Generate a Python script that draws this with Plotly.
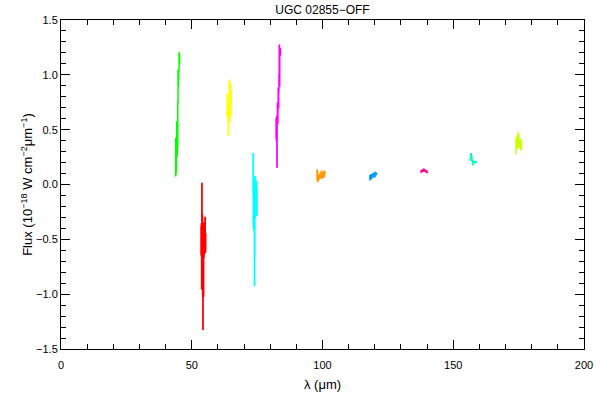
import plotly.graph_objects as go

# ---- data (wavelength in micron, flux in 1e-18 W cm^-2 um^-1) ----
green_wl = [43.7, 43.8, 43.9, 44.0, 44.05, 44.1, 44.15, 44.2, 44.3, 44.4, 44.45, 44.5, 44.55, 44.6, 44.7, 44.8, 44.9, 45.0, 45.1, 45.2, 45.3, 45.4]
green_fx = [0.09, 0.08, 0.42, 0.10, 0.40, 0.14, 0.36, 0.28, 0.57, 0.26, 0.52, 0.30, 0.55, 0.35, 0.75, 1.04, 0.90, 1.02, 1.04, 1.20, 1.10, 1.18]

red_wl = [53.5, 53.6, 53.7, 53.8, 53.9, 54.0, 54.1, 54.2, 54.3, 54.4, 54.5, 54.6, 54.7, 54.8, 54.9, 55.0, 55.1, 55.2, 55.3, 55.4]
red_fx = [-0.38, -0.64, -0.36, -0.95, 0.01, -0.62, -0.28, -1.00, -1.32, -0.40, -1.02, -0.35, -0.66, -0.40, -0.62, -0.38, -0.30, -0.62, -0.45, -0.60]

yellow_wl = [63.4, 63.5, 63.6, 63.7, 63.8, 63.9, 64.0, 64.1, 64.2, 64.3, 64.4, 64.5, 64.6, 64.7, 64.8, 64.9, 65.0, 65.1]
yellow_fx = [0.62, 0.66, 0.82, 0.63, 0.64, 0.60, 0.45, 0.66, 0.70, 0.62, 0.95, 0.58, 0.90, 0.62, 0.92, 0.65, 0.85, 0.72]

cyan_wl = [73.4, 73.5, 73.6, 73.7, 73.8, 73.9, 74.0, 74.1, 74.2, 74.3, 74.4, 74.5, 74.6, 74.7, 74.8, 74.9, 75.0]
cyan_fx = [-0.10, 0.28, -0.40, 0.06, -0.42, 0.04, -0.92, -0.66, 0.07, -0.30, 0.00, -0.20, 0.02, -0.25, 0.03, -0.28, -0.05]

magenta_wl = [82.2, 82.3, 82.4, 82.5, 82.6, 82.7, 82.8, 82.9, 83.0, 83.1, 83.2, 83.3, 83.4, 83.5, 83.6, 83.7, 83.8, 83.9, 84.0]
magenta_fx = [0.42, 0.60, 0.40, 0.62, 0.16, 0.58, 0.74, 0.56, 0.72, 0.88, 0.70, 0.86, 1.00, 1.27, 0.90, 1.20, 1.24, 1.18, 1.22]

orange_wl = [97.8, 98.0, 98.2, 98.4, 98.6, 98.8, 99.0, 99.2, 99.4, 99.6, 99.8, 100.0, 100.2, 100.4, 100.6, 100.8, 101.0]
orange_fx = [0.04, 0.13, 0.03, 0.08, 0.05, 0.09, 0.06, 0.10, 0.07, 0.12, 0.06, 0.09, 0.08, 0.11, 0.07, 0.12, 0.09]

blue_wl = [118.0, 118.2, 118.4, 118.6, 118.8, 119.0, 119.2, 119.4, 119.6, 119.8, 120.0, 120.2, 120.4, 120.6, 120.8]
blue_fx = [0.04, 0.08, 0.05, 0.09, 0.06, 0.08, 0.07, 0.10, 0.08, 0.09, 0.07, 0.11, 0.09, 0.10, 0.09]

pink_wl = [137.5, 137.8, 138.1, 138.4, 138.7, 139.0, 139.3, 139.6, 139.9, 140.2]
pink_fx = [0.11, 0.12, 0.13, 0.12, 0.14, 0.12, 0.13, 0.12, 0.11, 0.12]

teal_wl = [156.4, 156.6, 156.8, 157.0, 157.2, 157.4, 157.6, 157.8, 158.0, 158.3, 158.6, 158.9]
teal_fx = [0.22, 0.24, 0.28, 0.26, 0.22, 0.21, 0.18, 0.21, 0.20, 0.21, 0.20, 0.21]

lime_wl = [173.9, 174.1, 174.3, 174.5, 174.7, 174.9, 175.1, 175.3, 175.5, 175.7, 175.9, 176.1, 176.3]
lime_fx = [0.28, 0.42, 0.33, 0.44, 0.35, 0.47, 0.34, 0.42, 0.36, 0.41, 0.32, 0.38, 0.36]

segments = [
    (green_wl, green_fx, "#00FF00"),
    (red_wl, red_fx, "#FF0000"),
    (yellow_wl, yellow_fx, "#FFFF00"),
    (cyan_wl, cyan_fx, "#00FFFF"),
    (magenta_wl, magenta_fx, "#FF00FF"),
    (orange_wl, orange_fx, "#FF9900"),
    (blue_wl, blue_fx, "#0099FF"),
    (pink_wl, pink_fx, "#FF0099"),
    (teal_wl, teal_fx, "#00FFBB"),
    (lime_wl, lime_fx, "#CCFF00"),
]

fig = go.Figure()
for wl, fx, col in segments:
    fig.add_trace(go.Scatter(x=wl, y=fx, mode="lines", line=dict(color=col, width=1.5, shape="hvh"),
                             showlegend=False, hoverinfo="skip"))

font = dict(family="Liberation Sans, DejaVu Sans, sans-serif", size=11, color="black")
axis_common = dict(showgrid=False, zeroline=False, showline=True, linecolor="black", linewidth=1,
                   mirror="ticks", ticks="inside", tickcolor="black", tickwidth=1, ticklen=9,
                   automargin=False)

fig.update_layout(
    width=600, height=400,
    margin=dict(l=61, r=16, t=20, b=51),
    paper_bgcolor="white", plot_bgcolor="white",
    font=font,
    title=dict(text="UGC 02855\u2212OFF", xref="paper", x=0.5, xanchor="center",
               y=0.975, yanchor="middle", font=dict(size=12)),
    xaxis=dict(range=[0, 200], dtick=50, tick0=0, ticklabelstandoff=6,
               title=dict(text="\u03bb (\u03bcm)", standoff=9),
               minor=dict(ticks="inside", dtick=10, ticklen=5, tickcolor="black"),
               **axis_common),
    yaxis=dict(range=[-1.5, 1.5], dtick=0.5, tick0=0, tickformat=".1f",
               title=dict(text="Flux (10<sup>\u221218</sup> W cm<sup>\u22122</sup>\u03bcm<sup>\u22121</sup>)", standoff=0),
               minor=dict(ticks="inside", dtick=0.1, ticklen=5, tickcolor="black"),
               **axis_common),
)

fig.write_html("out.html", config={"displayModeBar": False},
               post_script="document.body.style.margin='0';")
